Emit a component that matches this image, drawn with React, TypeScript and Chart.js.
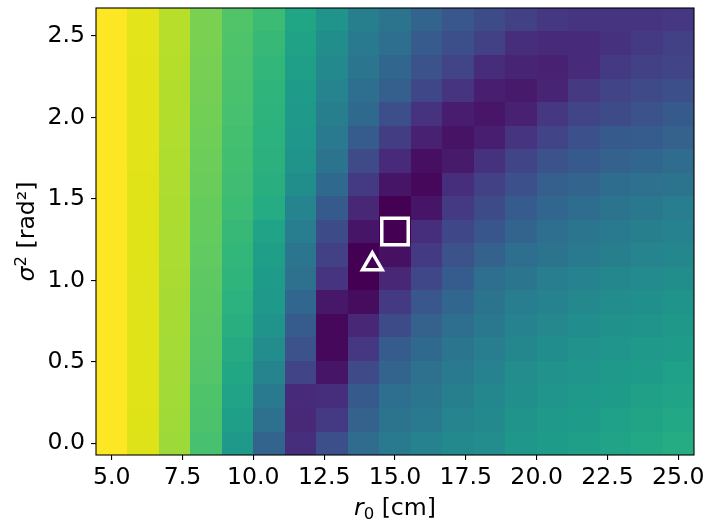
import React, { useEffect, useRef } from "react";
import { Chart, registerables } from "chart.js";

Chart.register(...registerables);

// r0 [cm] cell centres (columns)
const r0Values = [5.0, 6.11, 7.22, 8.33, 9.44, 10.56, 11.67, 12.78, 13.89, 15.0, 16.11, 17.22, 18.33, 19.44, 20.56, 21.67, 22.78, 23.89, 25.0];
// sigma^2 [rad^2] cell centres (rows, top to bottom)
const sigma2Rows = [2.6, 2.456, 2.311, 2.167, 2.022, 1.878, 1.733, 1.589, 1.444, 1.3, 1.156, 1.011, 0.867, 0.722, 0.578, 0.433, 0.289, 0.144, 0.0];

// normalised colour value of each cell (0 = dark purple, 1 = yellow), rows top to bottom
const cellRows = [
  [1.0, 0.957, 0.89, 0.8, 0.725, 0.68, 0.59, 0.51, 0.43, 0.38, 0.32, 0.27, 0.23, 0.19, 0.16, 0.15, 0.15, 0.15, 0.16],
  [1.0, 0.957, 0.889, 0.8, 0.72, 0.67, 0.575, 0.49, 0.41, 0.36, 0.285, 0.24, 0.19, 0.13, 0.12, 0.12, 0.14, 0.17, 0.19],
  [1.0, 0.956, 0.888, 0.795, 0.715, 0.66, 0.56, 0.47, 0.39, 0.33, 0.25, 0.2, 0.125, 0.1, 0.09, 0.12, 0.17, 0.19, 0.2],
  [1.0, 0.956, 0.886, 0.79, 0.71, 0.65, 0.55, 0.45, 0.36, 0.3, 0.21, 0.15, 0.085, 0.07, 0.1, 0.165, 0.2, 0.22, 0.24],
  [1.0, 0.955, 0.884, 0.785, 0.705, 0.645, 0.54, 0.43, 0.34, 0.24, 0.145, 0.08, 0.06, 0.09, 0.16, 0.2, 0.23, 0.25, 0.28],
  [1.0, 0.955, 0.882, 0.78, 0.7, 0.64, 0.525, 0.41, 0.29, 0.18, 0.09, 0.05, 0.085, 0.15, 0.2, 0.245, 0.28, 0.29, 0.31],
  [1.0, 0.955, 0.88, 0.775, 0.695, 0.635, 0.51, 0.38, 0.22, 0.12, 0.04, 0.07, 0.14, 0.2, 0.25, 0.28, 0.31, 0.33, 0.35],
  [1.0, 0.954, 0.878, 0.77, 0.69, 0.625, 0.49, 0.34, 0.17, 0.055, 0.02, 0.13, 0.19, 0.245, 0.3, 0.32, 0.355, 0.37, 0.385],
  [1.0, 0.954, 0.876, 0.765, 0.68, 0.615, 0.45, 0.28, 0.11, 0.0, 0.055, 0.17, 0.23, 0.29, 0.33, 0.355, 0.38, 0.4, 0.42],
  [1.0, 0.953, 0.874, 0.76, 0.67, 0.58, 0.42, 0.225, 0.055, 0.0, 0.13, 0.21, 0.265, 0.32, 0.36, 0.39, 0.41, 0.43, 0.44],
  [1.0, 0.953, 0.872, 0.755, 0.66, 0.56, 0.39, 0.19, 0.0, 0.045, 0.17, 0.25, 0.31, 0.36, 0.38, 0.41, 0.43, 0.45, 0.46],
  [1.0, 0.952, 0.87, 0.75, 0.65, 0.55, 0.37, 0.15, 0.0, 0.11, 0.21, 0.29, 0.36, 0.39, 0.42, 0.44, 0.46, 0.475, 0.49],
  [1.0, 0.952, 0.868, 0.745, 0.64, 0.535, 0.33, 0.065, 0.03, 0.17, 0.27, 0.33, 0.38, 0.42, 0.44, 0.465, 0.48, 0.495, 0.51],
  [1.0, 0.951, 0.866, 0.74, 0.625, 0.51, 0.29, 0.02, 0.11, 0.23, 0.31, 0.36, 0.4, 0.44, 0.465, 0.485, 0.5, 0.515, 0.53],
  [1.0, 0.951, 0.864, 0.735, 0.61, 0.48, 0.25, 0.02, 0.16, 0.29, 0.34, 0.39, 0.42, 0.46, 0.485, 0.505, 0.52, 0.535, 0.55],
  [1.0, 0.95, 0.862, 0.73, 0.595, 0.45, 0.2, 0.055, 0.22, 0.32, 0.37, 0.41, 0.44, 0.48, 0.505, 0.52, 0.535, 0.55, 0.565],
  [1.0, 0.95, 0.86, 0.72, 0.58, 0.41, 0.12, 0.13, 0.28, 0.36, 0.39, 0.43, 0.46, 0.495, 0.52, 0.535, 0.55, 0.57, 0.58],
  [1.0, 0.949, 0.857, 0.715, 0.56, 0.37, 0.115, 0.17, 0.31, 0.385, 0.41, 0.45, 0.47, 0.51, 0.535, 0.55, 0.565, 0.585, 0.6],
  [1.0, 0.948, 0.854, 0.705, 0.535, 0.32, 0.13, 0.24, 0.35, 0.41, 0.44, 0.47, 0.48, 0.525, 0.545, 0.56, 0.58, 0.6, 0.615],
];

const squareMarker = [{ x: 15.0, y: 1.3 }];
const triangleMarker = [{ x: 14.2, y: 1.1 }];

const xTickValues = [5, 7.5, 10, 12.5, 15, 17.5, 20, 22.5, 25];
const yTickValues = [0, 0.5, 1.0, 1.5, 2.0, 2.5];

const viridisStops = [
  "#440154", "#471365", "#482475", "#463480", "#414487", "#3b528b", "#355f8d",
  "#2f6c8e", "#2a788e", "#25848e", "#21918c", "#1e9c89", "#22a884", "#2fb47c",
  "#44bf70", "#5ec962", "#7ad151", "#9bd93c", "#bddf26", "#dfe318", "#fde725",
];

const FONT = '"DejaVu Sans", sans-serif';
const FONT_SIZE = 23.6;

function hexToRgb(h: string): number[] {
  return [parseInt(h.slice(1, 3), 16), parseInt(h.slice(3, 5), 16), parseInt(h.slice(5, 7), 16)];
}

function viridis(t: number): string {
  const n = viridisStops.length - 1;
  const v = Math.max(0, Math.min(1, t)) * n;
  const i = Math.min(Math.floor(v), n - 1);
  const f = v - i;
  const a = hexToRgb(viridisStops[i]);
  const b = hexToRgb(viridisStops[i + 1]);
  const c = a.map((av, k) => Math.round(av + (b[k] - av) * f));
  return `rgb(${c[0]},${c[1]},${c[2]})`;
}

// cell edges: midpoints between neighbouring centres, half a step beyond the ends
function edgesOf(centres: number[]): number[] {
  const n = centres.length;
  const e: number[] = [centres[0] - (centres[1] - centres[0]) / 2];
  for (let i = 0; i < n - 1; i++) e.push((centres[i] + centres[i + 1]) / 2);
  e.push(centres[n - 1] + (centres[n - 1] - centres[n - 2]) / 2);
  return e;
}
const xEdges = edgesOf(r0Values);
const yEdges = edgesOf(sigma2Rows);

const heatmapPlugin = {
  id: "heatmapCells",
  beforeDatasetsDraw(chart: any) {
    const { ctx, chartArea } = chart;
    const xs = chart.scales.x;
    const ys = chart.scales.y;
    const xPix = xEdges.map((v) => Math.round(xs.getPixelForValue(v)));
    const yPix = yEdges.map((v) => Math.round(ys.getPixelForValue(v)));
    ctx.save();
    ctx.beginPath();
    ctx.rect(chartArea.left, chartArea.top, chartArea.right - chartArea.left, chartArea.bottom - chartArea.top);
    ctx.clip();
    for (let r = 0; r < sigma2Rows.length; r++) {
      for (let c = 0; c < r0Values.length; c++) {
        ctx.fillStyle = viridis(cellRows[r][c]);
        ctx.fillRect(xPix[c], yPix[r], xPix[c + 1] - xPix[c], yPix[r + 1] - yPix[r]);
      }
    }
    ctx.restore();
  },
  afterDatasetsDraw(chart: any) {
    const { ctx, chartArea } = chart;
    ctx.save();
    ctx.strokeStyle = "#000";
    ctx.lineWidth = 1.1;
    ctx.strokeRect(chartArea.left, chartArea.top, chartArea.right - chartArea.left, chartArea.bottom - chartArea.top);
    ctx.restore();
  },
};

type Part = { t: string; font: string; dy: number };

function partsWidth(ctx: CanvasRenderingContext2D, parts: Part[]): number {
  let w = 0;
  for (const p of parts) {
    ctx.font = p.font;
    w += ctx.measureText(p.t).width;
  }
  return w;
}

function drawParts(ctx: CanvasRenderingContext2D, parts: Part[], x: number, y: number) {
  let cx = x;
  for (const p of parts) {
    ctx.font = p.font;
    ctx.fillText(p.t, cx, y + p.dy);
    cx += ctx.measureText(p.t).width;
  }
}

const titlesPlugin = {
  id: "axisTitles",
  afterDraw(chart: any) {
    const { ctx, chartArea } = chart;
    const reg = `${FONT_SIZE}px ${FONT}`;
    const ita = `italic ${FONT_SIZE}px ${FONT}`;
    const small = `${(FONT_SIZE * 0.7).toFixed(1)}px ${FONT}`;
    ctx.save();
    ctx.fillStyle = "#000";
    ctx.textBaseline = "alphabetic";
    ctx.textAlign = "left";
    const xParts: Part[] = [
      { t: "r", font: ita, dy: 0 },
      { t: "0", font: small, dy: 4 },
      { t: " [cm]", font: reg, dy: 0 },
    ];
    const wx = partsWidth(ctx, xParts);
    const cxm = (chartArea.left + chartArea.right) / 2;
    drawParts(ctx, xParts, cxm - wx / 2, 515);

    const yParts: Part[] = [
      { t: "σ", font: ita, dy: 0 },
      { t: "2", font: small, dy: -8.5 },
      { t: " [rad²]", font: reg, dy: 0 },
    ];
    const wy = partsWidth(ctx, yParts);
    const cym = (chartArea.top + chartArea.bottom) / 2;
    ctx.translate(34, cym);
    ctx.rotate(-Math.PI / 2);
    drawParts(ctx, yParts, -wy / 2, 0);
    ctx.restore();
  },
};

function zeroPadding(s: any) {
  s.paddingLeft = 0;
  s.paddingRight = 0;
  s.paddingTop = 0;
  s.paddingBottom = 0;
}

export default function App() {
  const canvasRef = useRef<HTMLCanvasElement | null>(null);

  useEffect(() => {
    const canvas = canvasRef.current;
    if (!canvas) return;

    const chart = new Chart(canvas, {
      type: "scatter",
      data: {
        datasets: [
          {
            label: "square",
            data: squareMarker,
            pointStyle: "rect",
            pointRadius: 18.7,
            pointBorderWidth: 3.5,
            pointBorderColor: "#ffffff",
            pointBackgroundColor: "rgba(0,0,0,0)",
          } as any,
          {
            label: "triangle",
            data: triangleMarker,
            pointStyle: "triangle",
            pointRadius: 11.3,
            pointBorderWidth: 3.5,
            pointBorderColor: "#ffffff",
            pointBackgroundColor: "rgba(0,0,0,0)",
          } as any,
        ],
      },
      options: {
        animation: false,
        responsive: false,
        devicePixelRatio: 1,
        events: [],
        layout: { autoPadding: false, padding: { top: 8, right: 17, left: 0, bottom: 0 } },
        plugins: { legend: { display: false }, tooltip: { enabled: false } },
        scales: {
          x: {
            type: "linear",
            min: xEdges[0],
            max: xEdges[xEdges.length - 1],
            afterFit: (s: any) => { s.height = 72; zeroPadding(s); },
            afterBuildTicks: (s: any) => { s.ticks = xTickValues.map((v) => ({ value: v })); },
            ticks: {
              color: "#000",
              font: { family: FONT, size: FONT_SIZE },
              padding: 4,
              maxRotation: 0,
              autoSkip: false,
              callback: (v: any) => Number(v).toFixed(1),
            },
            grid: { display: true, drawOnChartArea: false, drawTicks: true, tickLength: 5, color: "#000", lineWidth: 1.1 },
            border: { display: false },
          },
          y: {
            type: "linear",
            min: yEdges[yEdges.length - 1],
            max: yEdges[0],
            afterFit: (s: any) => { s.width = 96; zeroPadding(s); },
            afterBuildTicks: (s: any) => { s.ticks = yTickValues.map((v) => ({ value: v })); },
            ticks: {
              color: "#000",
              font: { family: FONT, size: FONT_SIZE },
              padding: 6,
              autoSkip: false,
              callback: (v: any) => Number(v).toFixed(1),
            },
            grid: { display: true, drawOnChartArea: false, drawTicks: true, tickLength: 5, color: "#000", lineWidth: 1.1 },
            border: { display: false },
          },
        },
      },
      plugins: [heatmapPlugin, titlesPlugin],
    } as any);
    return () => chart.destroy();
  }, []);

  return (
    <div style={{ position: "absolute", left: 0, top: 0, width: 711, height: 527, background: "#fff" }}>
      <canvas ref={canvasRef} width={711} height={527} style={{ display: "block", width: 711, height: 527 }} />
    </div>
  );
}
